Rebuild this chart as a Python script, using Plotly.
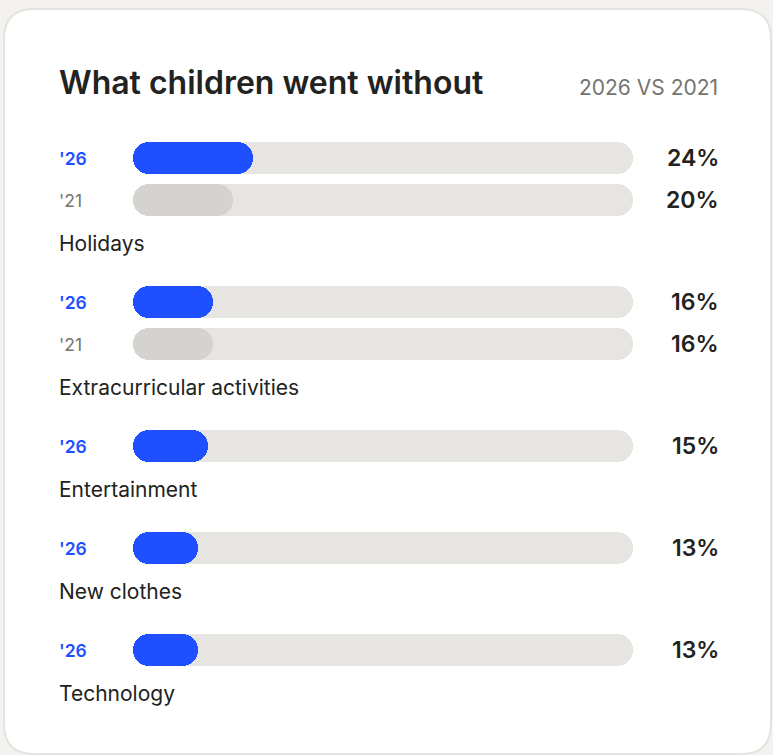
import plotly.graph_objects as go

# ---------------- data ----------------
categories = ["Holidays", "Extracurricular activities", "Entertainment", "New clothes", "Technology"]
values_2026 = [24, 16, 15, 13, 13]
values_2021 = [20, 16, None, None, None]
series_labels = ["'26", "'21"]
title_text = "What children went without"
subtitle_text = "2026 VS 2021"

# ---------------- style ----------------
W, H = 773, 755
BG = "#f3f2ee"
CARD = "#ffffff"
CARD_LINE = "#e4e3de"
BLUE = "#1f50ff"
TRACK = "#e6e5e1"
GREY_BAR = "#d4d3cf"
DARK = "#222220"
GREY_TXT = "#74746f"
FONT = "Inter"

BAR_H = 32
ROW_STEP = 42
LABEL_STEP = 43
GROUP_GAP = 59
FIRST_ROW = 158
LEFT = 57
BAR_X0, BAR_X1 = 133, 633
RIGHT = 721

# compute row positions (pixel units on a reversed y axis)
rows = []  # (y, series_index, value)
label_rows = []
y = FIRST_ROW
for i, cat in enumerate(categories):
    vals = [values_2026[i], values_2021[i]]
    last = None
    for s, v in enumerate(vals):
        if v is None:
            continue
        if last is not None:
            y += ROW_STEP
        rows.append((y, s, v))
        last = y
    y += LABEL_STEP
    label_rows.append((y, cat))
    y += GROUP_GAP

fig = go.Figure()


def rounded_bar(ys, vals, color):
    # a floating bar (explicit base) gets all corners rounded -> pill shape
    fig.add_trace(go.Bar(
        y=ys, x=vals, base=[0] * len(vals),
        orientation="h", width=BAR_H,
        marker=dict(color=color, cornerradius=BAR_H // 2, line=dict(width=0)),
        hoverinfo="skip", showlegend=False))


all_y = [r[0] for r in rows]
rounded_bar(all_y, [100] * len(all_y), TRACK)
for s, col in enumerate([BLUE, GREY_BAR]):
    ys = [r[0] for r in rows if r[1] == s]
    vs = [r[2] for r in rows if r[1] == s]
    rounded_bar(ys, vs, col)


def px(x):
    return x / W


def py(yv):
    return 1 - yv / H


cx0, cy0, cx1, cy1, R = 4, 9, 771, 754, 30
path = (
    f"M {px(cx0 + R)} {py(cy0)} L {px(cx1 - R)} {py(cy0)} "
    f"Q {px(cx1)} {py(cy0)} {px(cx1)} {py(cy0 + R)} "
    f"L {px(cx1)} {py(cy1 - R)} Q {px(cx1)} {py(cy1)} {px(cx1 - R)} {py(cy1)} "
    f"L {px(cx0 + R)} {py(cy1)} Q {px(cx0)} {py(cy1)} {px(cx0)} {py(cy1 - R)} "
    f"L {px(cx0)} {py(cy0 + R)} Q {px(cx0)} {py(cy0)} {px(cx0 + R)} {py(cy0)} Z"
)
fig.add_shape(type="path", path=path, xref="paper", yref="paper",
              fillcolor=CARD, line=dict(color=CARD_LINE, width=2), layer="below")

ann = []
ann.append(dict(text=title_text, x=px(LEFT), y=82, xref="paper", yref="y", xanchor="left", yanchor="middle",
                showarrow=False, font=dict(family=FONT, size=32, color=DARK, weight=600)))
ann.append(dict(text=subtitle_text, x=px(RIGHT - 1), y=87, xref="paper", yref="y", xanchor="right", yanchor="middle",
                showarrow=False, font=dict(family=FONT, size=21, color=GREY_TXT)))
for (yy, s, v) in rows:
    ann.append(dict(text=series_labels[s], x=px(LEFT), y=yy, xref="paper", yref="y", xanchor="left",
                    yanchor="middle", showarrow=False,
                    font=dict(family=FONT, size=17.5, color=BLUE if s == 0 else GREY_TXT,
                              weight=600 if s == 0 else 400)))
    ann.append(dict(text=f"{v}%", x=px(RIGHT), y=yy, xref="paper", yref="y", xanchor="right",
                    yanchor="middle", showarrow=False,
                    font=dict(family=FONT, size=23, color=DARK, weight=600)))
for (yy, cat) in label_rows:
    ann.append(dict(text=cat, x=px(LEFT), y=yy, xref="paper", yref="y", xanchor="left",
                    yanchor="middle", showarrow=False,
                    font=dict(family=FONT, size=21, color=DARK)))

fig.update_layout(
    width=W, height=H, margin=dict(l=0, r=0, t=0, b=0),
    paper_bgcolor=BG, plot_bgcolor="rgba(0,0,0,0)",
    barmode="overlay", bargap=0,
    xaxis=dict(domain=[px(BAR_X0), px(BAR_X1)], range=[0, 100], visible=False, fixedrange=True),
    yaxis=dict(domain=[0, 1], range=[H, 0], visible=False, fixedrange=True),
    annotations=ann, showlegend=False,
)

fig.write_html("out.html")
